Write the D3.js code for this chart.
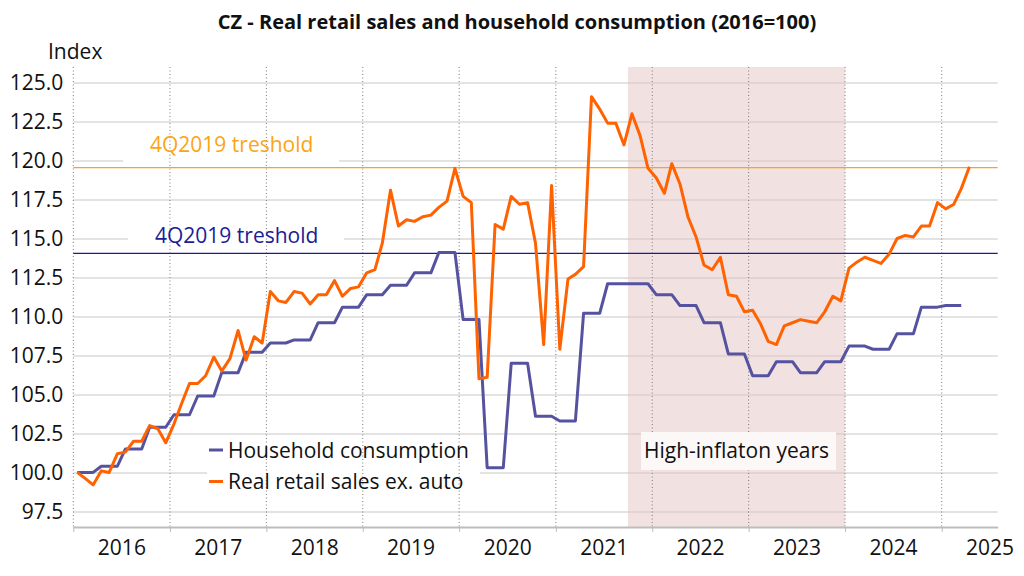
<!DOCTYPE html>
<html>
<head>
<meta charset="utf-8">
<script src="https://cdn.jsdelivr.net/npm/d3@7"></script>
<style>
  body { margin: 0; background: #fff; }
  svg { display: block; font-family: "Open Sans", sans-serif; }
</style>
</head>
<body>
<svg id="chart" width="1024" height="576"></svg>
<script>
"use strict";

// Real retail sales ex. auto, monthly, Jan 2016 - Apr 2025 (2016=100)
var retail = [
  100.0, 99.6, 99.2, 100.1, 100.0, 101.2, 101.3, 102.0, 102.0, 103.0, 102.8, 101.9,
  103.1, 104.5, 105.7, 105.7, 106.2, 107.4, 106.5, 107.3, 109.1, 107.2, 108.7, 108.3,
  111.6, 111.0, 110.9, 111.6, 111.5, 110.8, 111.4, 111.4, 112.3, 111.3, 111.8, 111.9,
  112.8, 113.0, 114.7, 118.1, 115.8, 116.2, 116.1, 116.4, 116.5, 117.0, 117.4, 119.5,
  117.7, 117.3, 106.0, 106.1, 115.9, 115.6, 117.7, 117.2, 117.3, 114.7, 108.2, 118.4,
  107.9, 112.4, 112.7, 113.2, 124.1, 123.3, 122.4, 122.4, 121.0, 123.0, 121.6, 119.5,
  118.9, 117.9, 119.8, 118.5, 116.4, 115.1, 113.3, 113.0, 113.8, 111.4, 111.3, 110.3,
  110.4, 109.5, 108.4, 108.2, 109.4, 109.6, 109.8, 109.7, 109.6, 110.3, 111.3, 111.0,
  113.1, 113.5, 113.8, 113.6, 113.4, 114.0, 115.0, 115.2, 115.1, 115.8, 115.8, 117.3,
  116.9, 117.2, 118.2, 119.6
];

// Household consumption, quarterly, 1Q2016 - 1Q2025 (2016=100)
var consumption = [
  100.0, 100.4, 101.5, 102.9,
  103.7, 104.9, 106.4, 107.7,
  108.3, 108.5, 109.6, 110.6,
  111.4, 112.0, 112.8, 114.1,
  109.8, 100.3, 107.0, 103.6,
  103.3, 110.2, 112.1, 112.1,
  111.4, 110.7, 109.6, 107.6,
  106.2, 107.1, 106.4, 107.1,
  108.1, 107.9, 108.9, 110.6,
  110.7
];

var years = d3.range(2016, 2026);
var yTicks = d3.range(0, 12).map(function(k) { return 97.5 + 2.5 * k; });
var thresholdValues = [119.55, 114.05];
var thresholdLabels = ["4Q2019 treshold", "4Q2019 treshold"];
var seriesNames = ["Household consumption", "Real retail sales ex. auto"];
var highInflation = [new Date(2021, 9, 1), new Date(2024, 0, 1)];
var highInflationLabel = "High-inflaton years";

function drawChart() {
  var orange = "#ff6200", indigo = "#5553a0";
  var thresholdColors = ["#fba514", "#1c1c94"];

  var plotLeft = 73.3, plotRight = 997.7, plotTop = 67, plotBottom = 527;
  var svg = d3.select("#chart");

  var x = d3.scaleTime()
    .domain([new Date(2016, 0, 1), new Date(2025, 7, 1)])
    .range([plotLeft, plotRight]);
  var y = d3.scaleLinear().domain([96.5, 126]).range([plotBottom, plotTop]);

  // each monthly point sits in the middle of its month
  function mid(i) { return new Date(2016, i, 16); }

  // quarterly value is shown for every month of its quarter
  var consMonthly = [];
  consumption.forEach(function(v) { consMonthly.push(v, v, v); });

  // gridlines + y labels
  var yAxis = svg.append("g")
    .attr("transform", "translate(" + plotLeft + ",0)")
    .call(d3.axisLeft(y).tickValues(yTicks).tickSize(-(plotRight - plotLeft)).tickPadding(10)
      .tickFormat(d3.format(".1f")));
  yAxis.select(".domain").remove();
  yAxis.selectAll(".tick line").attr("stroke", "#e3e3e3").attr("stroke-width", 2);
  yAxis.selectAll(".tick text")
    .attr("fill", "#111").style("font-size", "21px").style("font-family", "Open Sans");

  // high inflation shading
  svg.append("rect")
    .attr("x", x(highInflation[0])).attr("y", plotTop)
    .attr("width", x(highInflation[1]) - x(highInflation[0]))
    .attr("height", plotBottom - plotTop)
    .attr("fill", "#e6c3c3").attr("opacity", 0.5);

  // white boxes behind threshold labels
  svg.append("rect").attr("x", 123).attr("y", 128).attr("width", 216).attr("height", 35).attr("fill", "#fff");
  svg.append("rect").attr("x", 128).attr("y", 219).attr("width", 216).attr("height", 32).attr("fill", "#fff");
  // legend box
  svg.append("rect").attr("x", 207).attr("y", 436).attr("width", 273).attr("height", 46).attr("fill", "#fff");

  // dotted year separators
  svg.append("g").selectAll("line")
    .data(years)
    .join("line")
    .attr("x1", function(d) { return x(new Date(d, 0, 1)); })
    .attr("x2", function(d) { return x(new Date(d, 0, 1)); })
    .attr("y1", plotTop).attr("y2", plotBottom)
    .attr("stroke", "#7a7a7a").attr("stroke-width", 1)
    .attr("stroke-dasharray", "1,2.5");

  // high inflation label
  svg.append("rect").attr("x", 641).attr("y", 432).attr("width", 195).attr("height", 38)
    .attr("fill", "#fcf8f8");
  svg.append("text").attr("x", 644).attr("y", 458)
    .style("font-size", "21px").attr("fill", "#111")
    .text(highInflationLabel);

  // thresholds
  thresholdValues.forEach(function(v, k) {
    svg.append("line")
      .attr("x1", plotLeft).attr("x2", plotRight)
      .attr("y1", y(v)).attr("y2", y(v))
      .attr("stroke", thresholdColors[k]).attr("stroke-width", 1.3);
  });
  svg.append("text").attr("x", 150).attr("y", 152)
    .style("font-size", "21px").attr("fill", thresholdColors[0]).text(thresholdLabels[0]);
  svg.append("text").attr("x", 155).attr("y", 243)
    .style("font-size", "21px").attr("fill", thresholdColors[1]).text(thresholdLabels[1]);

  // series lines
  var line = d3.line()
    .x(function(d, i) { return x(mid(i)); })
    .y(function(d) { return y(d); });

  svg.append("path").datum(consMonthly)
    .attr("d", line).attr("fill", "none")
    .attr("stroke", indigo).attr("stroke-width", 3).attr("stroke-linejoin", "round");
  svg.append("path").datum(retail)
    .attr("d", line).attr("fill", "none")
    .attr("stroke", orange).attr("stroke-width", 3).attr("stroke-linejoin", "round");

  // legend
  var legendColors = [indigo, orange];
  seriesNames.forEach(function(name, k) {
    var ly = 450 + k * 31.5;
    svg.append("line").attr("x1", 209).attr("x2", 223).attr("y1", ly).attr("y2", ly)
      .attr("stroke", legendColors[k]).attr("stroke-width", 3);
    svg.append("text").attr("x", 228).attr("y", ly + 7.5)
      .style("font-size", "21px").attr("fill", "#111").text(name);
  });

  // x axis: ticks at year boundaries, labels in mid-year
  var xAxis = svg.append("g")
    .attr("transform", "translate(0," + plotBottom + ")")
    .call(d3.axisBottom(x).tickValues(years.map(function(d) { return new Date(d, 0, 1); }))
      .tickSize(5).tickSizeOuter(0).tickFormat(""));
  xAxis.select(".domain").attr("stroke", "#bdbdbd").attr("stroke-width", 2);
  xAxis.selectAll(".tick line").attr("stroke", "#bdbdbd").attr("stroke-width", 1);

  var xLabels = svg.append("g")
    .attr("transform", "translate(0," + plotBottom + ")")
    .call(d3.axisBottom(x).tickValues(years.map(function(d) { return new Date(d, 6, 1); }))
      .tickSize(0).tickPadding(13).tickFormat(d3.timeFormat("%Y")));
  xLabels.select(".domain").remove();
  xLabels.selectAll(".tick text")
    .attr("fill", "#111").style("font-size", "21px").style("font-family", "Open Sans");

  // axis title and chart title
  svg.append("text").attr("x", 48).attr("y", 59)
    .style("font-size", "21px").attr("fill", "#111").text("Index");
  svg.append("text").attr("x", 517).attr("y", 29)
    .attr("text-anchor", "middle")
    .style("font-size", "20px").style("font-weight", "bold").attr("fill", "#111")
    .text("CZ - Real retail sales and household consumption (2016=100)");
}

drawChart();
</script>
</body>
</html>
